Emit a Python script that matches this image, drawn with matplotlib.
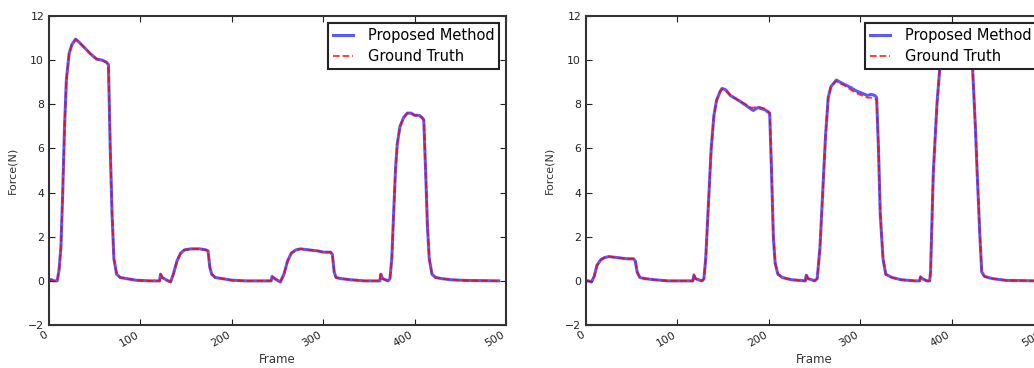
import matplotlib
matplotlib.use('Agg')
import matplotlib.pyplot as plt

# left plot: (frame, force)
left_frames = [0, 3, 5, 9, 11, 13, 15, 17, 19, 22, 25, 29, 32, 38, 45, 52, 58, 63, 65, 67, 69, 71, 74, 78, 85, 95,
               110, 121, 122, 124, 128, 133, 136, 140, 144, 148, 155, 165, 172, 174, 176, 178, 182, 190, 200, 215,
               243, 244, 247, 253, 257, 261, 265, 270, 275, 285, 295, 300, 308, 310, 312, 314, 320, 330, 345,
               362, 363, 365, 368, 371, 373, 375, 377, 379, 381, 384, 388, 392, 396, 400, 405, 408, 410, 412, 414,
               416, 419, 423, 430, 440, 455, 492]
left_pred = [0.05, 0.05, 0.0, 0.0, 0.5, 1.5, 4.0, 7.0, 9.1, 10.3, 10.7, 10.95, 10.85, 10.6, 10.3, 10.05, 10.0, 9.9,
             9.8, 6.0, 3.0, 1.0, 0.3, 0.15, 0.1, 0.03,
             0.0, 0.0, 0.3, 0.15, 0.05, -0.05, 0.3, 0.9, 1.25, 1.4, 1.45, 1.45, 1.4, 1.35, 0.6, 0.3, 0.15, 0.1,
             0.03, 0.0,
             0.0, 0.2, 0.1, -0.05, 0.3, 0.9, 1.25, 1.4, 1.45, 1.4, 1.35, 1.3, 1.3, 1.2, 0.4, 0.15, 0.1, 0.05, 0.0,
             0.0, 0.3, 0.1, 0.05, 0.0, 0.1, 1.0, 3.0, 5.0, 6.2, 7.0, 7.4, 7.6, 7.6, 7.5, 7.5, 7.4, 7.3, 5.0, 2.5,
             1.0, 0.3, 0.15, 0.1, 0.05, 0.02, 0.0]
left_gt = list(left_pred)

# right plot
right_frames = [0, 3, 6, 9, 12, 16, 20, 25, 35, 45, 52, 54, 56, 59, 65, 75, 90,
                117, 118, 120, 123, 127, 129, 131, 134, 137, 140, 143, 147, 149, 153, 156, 158, 162, 168, 175,
                180, 183, 188, 192, 196, 199, 201, 203, 205, 207, 210, 215, 225,
                240, 241, 243, 247, 250, 253, 256, 259, 262, 265, 268, 272, 274, 278, 283, 290, 296, 302, 308,
                312, 316, 318, 320, 322, 325, 328, 335, 345, 360,
                365, 366, 368, 373, 376, 377, 380, 384, 387, 390, 395, 405, 415, 420, 423, 426, 428, 431, 433,
                436, 445, 460, 495]
right_pred = [0.0, 0.0, -0.05, 0.2, 0.7, 0.95, 1.05, 1.1, 1.05, 1.0, 1.0, 0.9, 0.4, 0.15, 0.1, 0.05, 0.0,
              0.0, 0.25, 0.1, 0.05, 0.0, 0.1, 1.0, 3.5, 6.0, 7.5, 8.2, 8.6, 8.72, 8.65, 8.5, 8.4, 8.3, 8.15, 7.95,
              7.8, 7.72, 7.85, 7.8, 7.75, 7.65, 7.6, 5.0, 2.0, 0.8, 0.3, 0.15, 0.05,
              0.0, 0.25, 0.1, 0.05, 0.0, 0.1, 1.5, 4.0, 6.5, 8.3, 8.8, 9.0, 9.1, 9.0, 8.9, 8.75, 8.6, 8.5, 8.4,
              8.45, 8.4, 8.3, 6.0, 3.0, 1.0, 0.3, 0.15, 0.05, 0.0,
              0.0, 0.18, 0.1, 0.0, 0.0, 0.4, 4.9, 8.0, 9.6, 10.7, 11.2, 11.3, 11.2, 11.0, 9.6, 7.0, 4.9, 2.0, 0.4,
              0.2, 0.1, 0.02, 0.0]
right_gt = [0.0, 0.0, -0.05, 0.2, 0.7, 0.95, 1.05, 1.1, 1.05, 1.0, 1.0, 0.9, 0.4, 0.15, 0.1, 0.05, 0.0,
            0.0, 0.3, 0.1, 0.05, 0.0, 0.1, 1.0, 3.5, 6.0, 7.5, 8.2, 8.6, 8.7, 8.6, 8.5, 8.4, 8.3, 8.15, 8.0,
            7.85, 7.85, 7.9, 7.85, 7.8, 7.7, 7.6, 5.0, 2.0, 0.8, 0.3, 0.15, 0.05,
            0.0, 0.3, 0.1, 0.05, 0.0, 0.1, 1.5, 4.0, 6.5, 8.3, 8.8, 9.0, 9.05, 8.95, 8.85, 8.65, 8.5, 8.4, 8.3,
            8.3, 8.25, 8.2, 6.0, 3.0, 1.0, 0.3, 0.15, 0.05, 0.0,
            0.0, 0.18, 0.1, 0.0, 0.0, 0.4, 4.9, 8.0, 9.6, 10.7, 11.2, 11.3, 11.2, 11.0, 9.6, 7.0, 4.9, 2.0, 0.4,
            0.2, 0.1, 0.02, 0.0]

x_ticks = [0, 100, 200, 300, 400, 500]
y_ticks = [-2, 0, 2, 4, 6, 8, 10, 12]

fig = plt.figure(figsize=(10.34, 3.68), dpi=100)
ax1 = fig.add_axes([0.0474, 0.1168, 0.442, 0.8397])
ax2 = fig.add_axes([0.5667, 0.1168, 0.442, 0.8397])

for ax, frames, pred, gt in [(ax1, left_frames, left_pred, left_gt),
                              (ax2, right_frames, right_pred, right_gt)]:
    ax.plot(frames, pred, color='#0000ff', alpha=0.65, lw=2.2, label='Proposed Method')
    ax.plot(frames, gt, color='red', ls='--', lw=1.3, alpha=0.8, label='Ground Truth')
    ax.set_xlim(0, 500)
    ax.set_ylim(-2, 12)
    ax.set_xticks(x_ticks)
    ax.set_yticks(y_ticks)
    ax.tick_params(direction='in', top=True, right=True, length=4, labelsize=7.8, colors='#222222')
    plt.setp(ax.get_xticklabels(), rotation=30, ha='right')
    for s in ax.spines.values():
        s.set_linewidth(1.5)
        s.set_color('#333333')
    ax.set_xlabel('Frame', fontsize=8.5, color='#333333', labelpad=3)
    ax.set_ylabel('Force(N)', fontsize=8, color='#333333', labelpad=8)
    leg = ax.legend(loc='upper right', fontsize=10.5, fancybox=False, framealpha=1, handlelength=1.4,
                    handletextpad=1.0, labelspacing=0.45, borderaxespad=0.45, borderpad=0.35)
    leg.get_frame().set_edgecolor('#222222')
    leg.get_frame().set_linewidth(1.5)

fig.savefig('out.png', dpi=100)
